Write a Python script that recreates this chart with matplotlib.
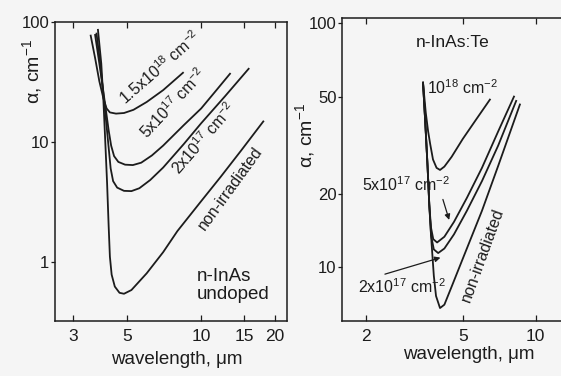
import matplotlib
matplotlib.use("Agg")
import matplotlib.pyplot as plt

plt.rcParams['font.family'] = ['Liberation Sans', 'DejaVu Sans']
plt.rcParams['mathtext.fontset'] = 'custom'
plt.rcParams['mathtext.rm'] = 'Liberation Sans'
plt.rcParams['mathtext.it'] = 'Liberation Sans'

INK = '#1c1c1c'
BG = '#f5f5f5'

# ---- left panel: n-InAs undoped ----
l_non_x = [3.8, 3.92, 4.0, 4.07, 4.14, 4.2, 4.25, 4.32, 4.45, 4.65, 4.85, 5.2, 6.0, 7.0, 8.0, 10, 12, 14.5, 17.9]
l_non_y = [86, 45, 22, 10, 4.5, 2.0, 1.1, 0.78, 0.62, 0.55, 0.54, 0.58, 0.8, 1.2, 1.8, 3.2, 5.1, 8.4, 14.8]
l_2e17_x = [3.75, 3.88, 4.0, 4.1, 4.2, 4.28, 4.38, 4.55, 4.85, 5.2, 5.6, 6.2, 7.0, 8.5, 10, 12.5, 15.6]
l_2e17_y = [80, 45, 25, 15, 9, 6, 4.7, 4.15, 3.9, 3.88, 4.1, 4.8, 6.1, 9.6, 14.3, 24, 40.7]
l_5e17_x = [3.7, 3.85, 3.98, 4.1, 4.2, 4.3, 4.42, 4.6, 4.9, 5.27, 5.7, 6.3, 7.0, 8.5, 10, 11.5, 13.1]
l_5e17_y = [78, 45, 28, 18, 12.5, 9.3, 7.6, 6.8, 6.45, 6.4, 6.7, 7.7, 9.3, 13.8, 19, 26.8, 37]
l_15e18_x = [3.55, 3.7, 3.85, 4.0, 4.12, 4.25, 4.5, 4.85, 5.3, 6.0, 7.0, 8.43]
l_15e18_y = [77, 50, 32, 23, 19, 17.6, 17.2, 17.4, 18.5, 21.5, 27, 37.7]

# ---- right panel: n-InAs:Te ----
r_1e18_x = [3.43, 3.52, 3.6, 3.67, 3.77, 3.9, 4.03, 4.2, 4.5, 5.0, 5.7, 6.47]
r_1e18_y = [57, 43, 36, 32, 27.6, 25.5, 25, 25.8, 28.3, 33.5, 40.5, 48.6]
r_5e17_x = [3.43, 3.5, 3.58, 3.64, 3.7, 3.78, 3.92, 4.2, 4.6, 5.2, 6.0, 7.0, 8.13]
r_5e17_y = [57, 40, 26, 18, 14.5, 13, 12.6, 13.3, 15.3, 19.2, 25.5, 36, 50]
r_2e17_x = [3.43, 3.5, 3.58, 3.64, 3.7, 3.8, 3.96, 4.2, 4.6, 5.2, 6.0, 7.0, 8.3]
r_2e17_y = [57, 40, 26, 18, 13.5, 11.8, 11.4, 11.9, 13.6, 17, 22.5, 31.5, 48]
r_non_x = [3.43, 3.5, 3.58, 3.64, 3.72, 3.8, 3.88, 4.03, 4.2, 4.5, 5.0, 6.0, 7.0, 8.6]
r_non_y = [57, 40, 26, 18, 12.5, 9.2, 7.6, 6.78, 7.0, 8.3, 10.8, 17, 26, 46.4]

l_xticks = [3, 5, 10, 15, 20]
l_yticks = [1, 10, 100]
r_xticks = [2, 5, 10]
r_yticks = [10, 20, 50, 100]

fig = plt.figure(figsize=(5.61, 3.76), dpi=100, facecolor=BG)
ax1 = fig.add_axes([0.098, 0.1463, 0.414, 0.7952])
ax2 = fig.add_axes([0.6096, 0.1463, 0.3904, 0.8057])

for ax in (ax1, ax2):
    ax.set_facecolor(BG)
    ax.set_xscale('log')
    ax.set_yscale('log')
    ax.minorticks_off()
    for s in ax.spines.values():
        s.set_linewidth(1.1)
        s.set_color(INK)
    ax.tick_params(axis='x', which='major', direction='in', length=4, width=0.9,
                   top=True, labelsize=12.5, pad=6, colors=INK)
    ax.tick_params(axis='y', which='major', direction='out', length=3, width=0.9,
                   labelsize=12, pad=1, colors=INK)

lw = 1.3
for xs, ys in [(l_non_x, l_non_y), (l_2e17_x, l_2e17_y), (l_5e17_x, l_5e17_y), (l_15e18_x, l_15e18_y)]:
    ax1.plot(xs, ys, color=INK, lw=lw)
ax1.set_xlim(2.54, 22.4)
ax1.set_ylim(0.32, 100)
ax1.set_xticks(l_xticks)
ax1.set_xticklabels([str(v) for v in l_xticks])
ax1.set_yticks(l_yticks)
ax1.set_yticklabels([str(v) for v in l_yticks])
ax1.minorticks_off()

ax1.text(6.8, 41.6, '1.5x10$^{18}$ cm$^{-2}$', rotation=41, ha='center', va='center', fontsize=11.5, color=INK)
ax1.text(7.69, 21.0, '5x10$^{17}$ cm$^{-2}$', rotation=47, ha='center', va='center', fontsize=11.5, color=INK)
ax1.text(10.2, 10.6, '2x10$^{17}$ cm$^{-2}$', rotation=49, ha='center', va='center', fontsize=11.5, color=INK)
ax1.text(13.1, 4.07, 'non-irradiated', rotation=54, ha='center', va='center', fontsize=11.5, color=INK)
ax1.text(9.6, 0.63, 'n-InAs\nundoped', ha='left', va='center', fontsize=13.5, color=INK, linespacing=1.1)

for xs, ys in [(r_1e18_x, r_1e18_y), (r_5e17_x, r_5e17_y), (r_2e17_x, r_2e17_y), (r_non_x, r_non_y)]:
    ax2.plot(xs, ys, color=INK, lw=lw)
ax2.set_xlim(1.59, 12.7)
ax2.set_ylim(6.0, 105)
ax2.spines['right'].set_visible(False)
ax2.set_xticks(r_xticks)
ax2.set_xticklabels([str(v) for v in r_xticks])
ax2.set_yticks(r_yticks)
ax2.set_yticklabels([str(v) for v in r_yticks])
ax2.minorticks_off()

ax2.text(4.56, 83.5, 'n-InAs:Te', ha='center', va='center', fontsize=12.5, color=INK)
ax2.text(3.56, 54.5, '10$^{18}$ cm$^{-2}$', ha='left', va='center', fontsize=11.5, color=INK)
ax2.text(2.92, 21.8, '5x10$^{17}$ cm$^{-2}$', ha='center', va='center', fontsize=11.5, color=INK)
ax2.text(2.81, 8.27, '2x10$^{17}$ cm$^{-2}$', ha='center', va='center', fontsize=11.5, color=INK)
ax2.text(6.06, 11.2, 'non-irradiated', rotation=70, ha='center', va='center', fontsize=11.5, color=INK)
ax2.annotate('', xy=(4.43, 15.2), xytext=(4.11, 19.4),
             arrowprops=dict(arrowstyle='-|>', color=INK, lw=0.9, mutation_scale=8))
ax2.annotate('', xy=(4.15, 11.0), xytext=(2.33, 9.27),
             arrowprops=dict(arrowstyle='-|>', color=INK, lw=0.9, mutation_scale=8))

fig.text(0.057, 0.809, r'$\alpha$, cm$^{-1}$', rotation=90, ha='center', va='center', fontsize=14, color=INK)
fig.text(0.543, 0.64, r'$\alpha$, cm$^{-1}$', rotation=90, ha='center', va='center', fontsize=14, color=INK)
fig.text(0.3155, 0.0426, 'wavelength, \u03bcm', ha='center', va='center', fontsize=13.5, color=INK)
fig.text(0.836, 0.056, 'wavelength, \u03bcm', ha='center', va='center', fontsize=13.5, color=INK)

fig.savefig('out.png', dpi=100, facecolor=BG)
